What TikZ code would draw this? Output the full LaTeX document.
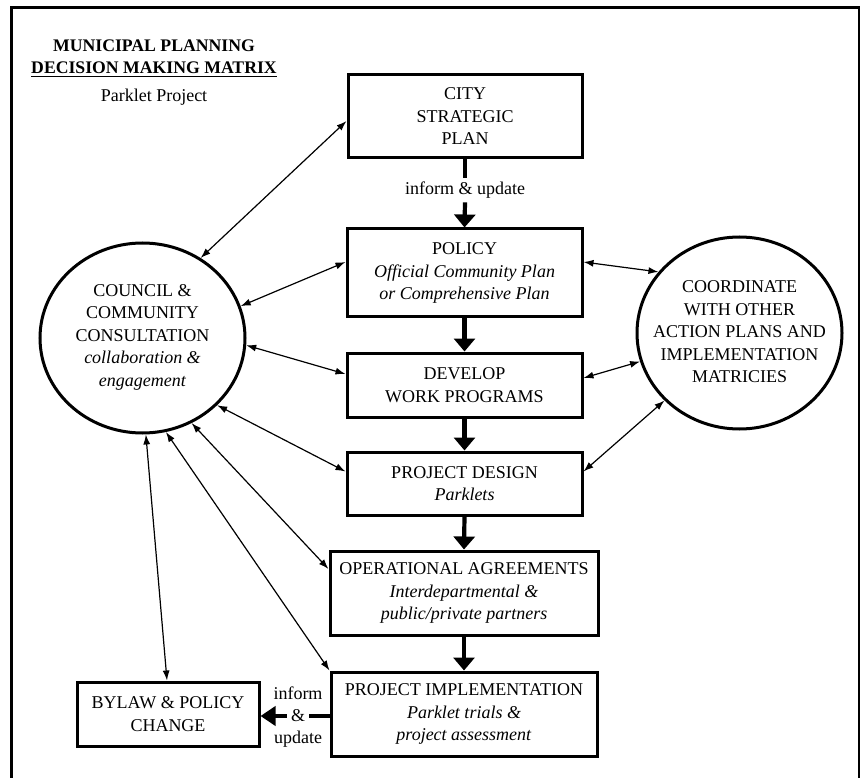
\documentclass[tikz,border=0pt]{standalone}
\usepackage{fontspec}
\setmainfont{Liberation Serif}
\usetikzlibrary{arrows.meta,calc,shapes.geometric}
\begin{document}
\begin{tikzpicture}[x=1pt,y=-1pt,
  txt/.style={font=\fontsize{18}{22.5}\selectfont, align=center, inner sep=0pt},
  box/.style={draw, line width=3pt, txt},
  oval/.style={draw, ellipse, line width=3pt, inner sep=0pt},
  thin/.style={line width=1.2pt, {Latex[length=10pt,width=7pt]}-{Latex[length=10pt,width=7pt]}},
  bigline/.style={line width=4.2pt},
  bigarrow/.style={line width=4.2pt, -{Triangle[length=13pt,width=21pt]}}]
\useasboundingbox (0,0) rectangle (860,778);
\clip (0,0) rectangle (860,778);
\draw[line width=3pt] (11,8) rectangle (859,800);

% title
\node[txt, font=\fontsize{17.7}{22}\selectfont\bfseries] (t1) at (154,46) {MUNICIPAL PLANNING};
\node[txt, font=\fontsize{17.7}{22}\selectfont\bfseries, inner ysep=3pt] (t2) at (154,68) {DECISION MAKING MATRIX};
\draw[line width=1pt] ($(t2.south west)+(0,-1)$) -- ($(t2.south east)+(0,-1)$);
\node[txt] (t3) at (154,97) {Parklet Project};

% boxes
\node[box, minimum width=234, minimum height=83] (city) at (465,116.5) {CITY\\STRATEGIC\\PLAN};
\node[box, minimum width=235, minimum height=88] (policy) at (464.5,273) {POLICY\\\textit{Official Community Plan}\\\textit{or Comprehensive Plan}};
\node[box, minimum width=235, minimum height=64] (develop) at (464.5,385) {DEVELOP\\WORK PROGRAMS};
\node[box, minimum width=235, minimum height=63] (design) at (464.5,483.5) {PROJECT DESIGN\\\textit{Parklets}};
\node[box, minimum width=268, minimum height=84] (oper) at (464,593) {OPERATIONAL AGREEMENTS\\\textit{Interdepartmental \&}\\\textit{public/private partners}};
\node[box, minimum width=266, minimum height=84] (impl) at (464,714) {PROJECT IMPLEMENTATION\\\textit{Parklet trials \&}\\\textit{project assessment}};
\node[box, minimum width=182, minimum height=64] (bylaw) at (168,714) {BYLAW \& POLICY\\CHANGE};

% circles
\node[oval, minimum width=205, minimum height=190] (council) at (142.5,338) {};
\node[txt] (counciltxt) at (142.5,337) {COUNCIL \&\\COMMUNITY\\CONSULTATION\\\textit{collaboration \&}\\\textit{engagement}};
\node[oval, minimum width=205, minimum height=192] (coord) at (739.5,333) {};
\node[txt] (coordtxt) at (739.5,332) {COORDINATE\\WITH OTHER\\ACTION PLANS AND\\IMPLEMENTATION\\MATRICIES};

% main flow
\node[txt, inner ysep=4pt] (lab1) at (465,190) {inform \& update};
\draw[bigline] (city.south) -- (lab1.north);
\draw[bigarrow] (lab1.south) -- (policy.north);
\draw[bigarrow] (policy.south) -- (develop.north);
\draw[bigarrow] (develop.south) -- (design.north);
\draw[bigarrow] (design.south) -- (oper.north);
\draw[bigarrow] (oper.south) -- (impl.north);

\node[txt, inner xsep=4pt] (amp) at (298,716) {\&};
\node[txt] (inf) at (298,693) {inform};
\node[txt] (upd) at (298,739) {update};
\draw[bigline] (impl.west |- amp.east) -- (amp.east);
\draw[line width=4.2pt, -{Triangle[length=15pt,width=19pt]}] (amp.west) -- (bylaw.east |- amp.west);

% council links
\draw[thin] (council.54) -- ($(city.west)+(0,4.5)$);
\draw[thin] (council.18) -- ($(policy.west)+(0,-11)$);
\draw[thin] (council.-4) -- ($(develop.west)+(0,-11)$);
\draw[thin] (council.-42) -- ($(design.west)+(0,-12)$);
\draw[thin] (council.-60) -- ($(oper.west)+(0,-24)$);
\draw[thin] (council.-76) -- (impl.north west);
\draw[thin] (council.-88) -- ($(bylaw.north)+(-1,0)$);

% coordinate links
\draw[thin] ($(policy.east)+(0,-11)$) -- (coord.143);
\draw[thin] ($(develop.east)+(0,-7)$) -- (coord.196);
\draw[thin] ($(design.east)+(0,-12)$) -- (coord.222);
\end{tikzpicture}
\end{document}
